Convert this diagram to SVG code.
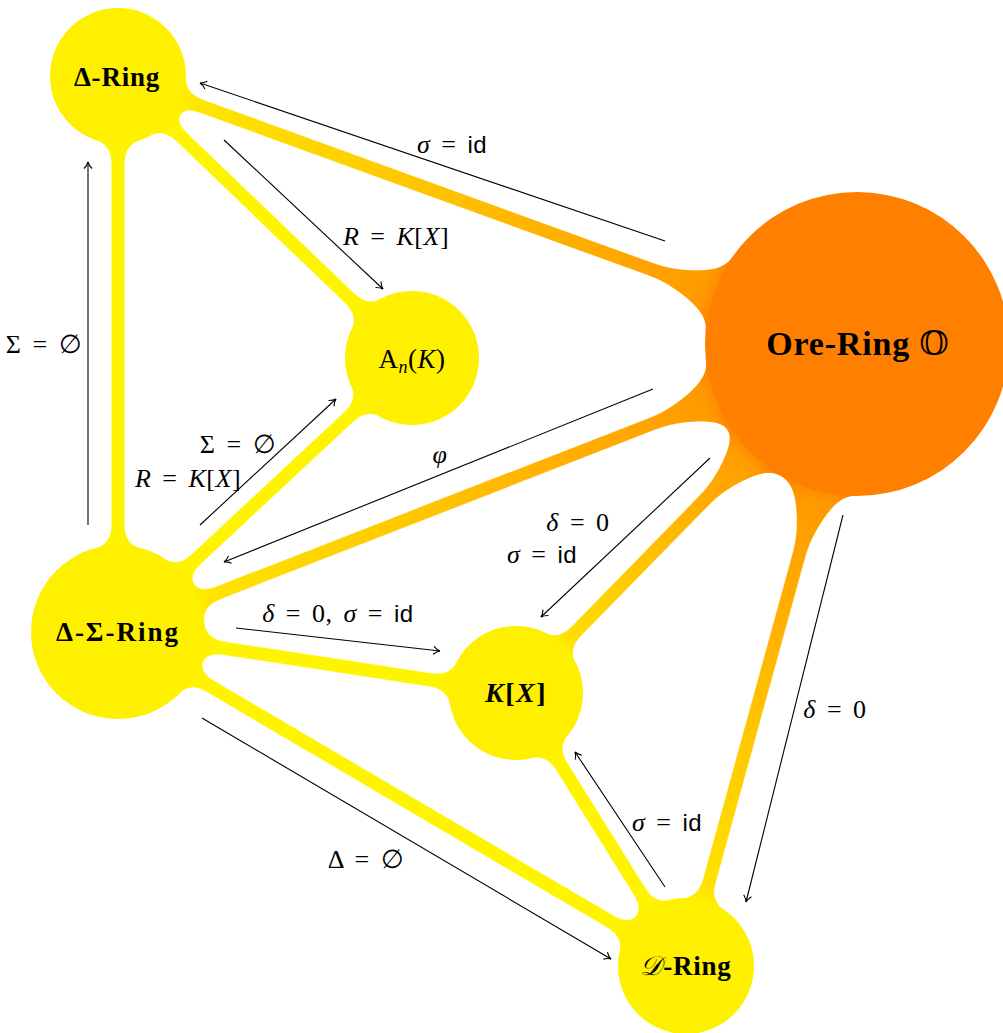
<svg xmlns="http://www.w3.org/2000/svg" width="1003" height="1033" viewBox="0 0 1003 1033">
<style>
.band{fill:none;stroke-width:16;stroke-linecap:butt}
.y{stroke:#FFF400}
.nodec{fill:#FFF000}
.arr{fill:none;stroke:#000;stroke-width:1.1;marker-end:url(#ah)}
.lbl{font-family:"Liberation Serif","DejaVu Serif",serif;font-size:26px;letter-spacing:0.5px;word-spacing:4px;text-anchor:middle;fill:#000}
.i{font-style:italic}
.sf{font-family:"Liberation Sans","DejaVu Sans",sans-serif;font-size:24px;letter-spacing:0.5px}
.nl{font-family:"Liberation Serif","DejaVu Serif",serif;font-weight:bold;font-size:27px;letter-spacing:0.8px;text-anchor:middle;fill:#000}
</style>
<defs>
<filter id="goo" filterUnits="userSpaceOnUse" x="0" y="0" width="1003" height="1033" color-interpolation-filters="sRGB">
<feGaussianBlur in="SourceGraphic" stdDeviation="9" result="b"/>
<feColorMatrix in="b" type="matrix" values="1 0 0 0 0 0 1 0 0 0 0 0 1 0 0 0 0 0 24 -12"/>
</filter>
<linearGradient id="g1" gradientUnits="userSpaceOnUse" x1="118" y1="76" x2="857" y2="344"><stop offset="0" stop-color="#FFF200"/><stop offset="0.8" stop-color="#FF9A00"/><stop offset="1" stop-color="#FF8000"/></linearGradient>
<linearGradient id="g2" gradientUnits="userSpaceOnUse" x1="118" y1="632" x2="857" y2="344"><stop offset="0" stop-color="#FFF200"/><stop offset="0.8" stop-color="#FF9A00"/><stop offset="1" stop-color="#FF8000"/></linearGradient>
<linearGradient id="g3" gradientUnits="userSpaceOnUse" x1="516" y1="693" x2="857" y2="344"><stop offset="0" stop-color="#FFF200"/><stop offset="0.7" stop-color="#FF9A00"/><stop offset="1" stop-color="#FF8000"/></linearGradient>
<linearGradient id="g4" gradientUnits="userSpaceOnUse" x1="686" y1="966" x2="857" y2="344"><stop offset="0" stop-color="#FFF200"/><stop offset="0.75" stop-color="#FF9A00"/><stop offset="1" stop-color="#FF8000"/></linearGradient>
<marker id="ah" viewBox="-8 -5 10 10" refX="0" refY="0" markerWidth="10" markerHeight="10" markerUnits="userSpaceOnUse" orient="auto">
<path d="M-6.5,-4 C-4,-1.6 -1.6,-0.4 0,0 C-1.6,0.4 -4,1.6 -6.5,4" fill="none" stroke="#000" stroke-width="1.1"/>
</marker>
</defs>
<rect width="1003" height="1033" fill="#fff"/>
<g id="connectors">
<g id="bands" filter="url(#goo)">
<line class="band y" x1="118" y1="76" x2="118" y2="632"/>
<line class="band y" x1="118" y1="76" x2="412" y2="358"/>
<line class="band y" x1="118" y1="632" x2="412" y2="358"/>
<line class="band y" x1="118" y1="632" x2="516" y2="693"/>
<line class="band y" x1="118" y1="632" x2="686" y2="966"/>
<line class="band y" x1="516" y1="693" x2="686" y2="966"/>
<line class="band" stroke="url(#g1)" x1="118" y1="76" x2="857" y2="344"/>
<line class="band" stroke="url(#g2)" x1="118" y1="632" x2="857" y2="344"/>
<line class="band" stroke="url(#g3)" x1="516" y1="693" x2="857" y2="344"/>
<line class="band" stroke="url(#g4)" x1="686" y1="966" x2="857" y2="344"/>
<path fill="url(#g1)" d="M650.7,261.7 Q707.1,282.2 754.6,253.7 L720.6,347.7 Q702.3,295.4 645.9,274.9 Z"/>
<path fill="url(#g2)" d="M652.6,431.1 Q708.5,409.3 756.9,436.7 L720.5,343.5 Q703.5,396.3 647.6,418.1 Z"/>
<path fill="url(#g3)" d="M706.8,507.7 Q748.8,464.8 804.0,469.7 L732.4,399.9 Q738.8,455.0 696.8,497.9 Z"/>
<path fill="url(#g4)" d="M804.9,560.0 Q820.9,502.1 871.5,479.8 L775.1,453.2 Q807.4,498.3 791.4,556.2 Z"/>
<circle class="nodec" cx="118" cy="76" r="68"/>
<circle class="nodec" cx="412" cy="358" r="67"/>
<circle class="nodec" cx="118" cy="632" r="87"/>
<circle class="nodec" cx="516" cy="693" r="67"/>
<circle class="nodec" cx="686" cy="966" r="68"/>
<circle fill="#FF8000" cx="857" cy="344" r="152"/>
</g>
<g id="arrows">
<line class="arr" x1="665" y1="241" x2="200" y2="83"/>
<line class="arr" x1="224" y1="140" x2="383" y2="289"/>
<line class="arr" x1="88" y1="525" x2="88" y2="162"/>
<line class="arr" x1="200" y1="525" x2="336" y2="399"/>
<line class="arr" x1="653" y1="389" x2="224" y2="562"/>
<line class="arr" x1="710" y1="458" x2="541" y2="617"/>
<line class="arr" x1="236" y1="628" x2="440" y2="651"/>
<line class="arr" x1="843" y1="515" x2="746" y2="902"/>
<line class="arr" x1="665" y1="887" x2="575" y2="752"/>
<line class="arr" x1="202" y1="718" x2="611" y2="959"/>
</g>
<g id="edge-labels">
<text class="lbl" x="452" y="153"><tspan class="i">σ</tspan> = <tspan class="sf">id</tspan></text>
<text class="lbl" x="396" y="245"><tspan class="i">R</tspan> = <tspan class="i">K</tspan>[<tspan class="i">X</tspan>]</text>
<text class="lbl" x="44" y="353">Σ = ∅</text>
<text class="lbl" x="238" y="453">Σ = ∅</text>
<text class="lbl" x="188" y="487"><tspan class="i">R</tspan> = <tspan class="i">K</tspan>[<tspan class="i">X</tspan>]</text>
<text class="lbl" x="440" y="463"><tspan class="i">φ</tspan></text>
<text class="lbl" x="578" y="531"><tspan class="i">δ</tspan> = 0</text>
<text class="lbl" x="542" y="563"><tspan class="i">σ</tspan> = <tspan class="sf">id</tspan></text>
<text class="lbl" x="338" y="622"><tspan class="i">δ</tspan> = 0,  <tspan class="i">σ</tspan> = <tspan class="sf">id</tspan></text>
<text class="lbl" x="835" y="718"><tspan class="i">δ</tspan> = 0</text>
<text class="lbl" x="667" y="831"><tspan class="i">σ</tspan> = <tspan class="sf">id</tspan></text>
<text class="lbl" x="366" y="868">Δ = ∅</text>
</g>
</g>
<g id="node-delta-ring">
<circle class="nodec" cx="118" cy="76" r="68"/>
<text class="nl" x="117" y="86">Δ-Ring</text>
</g>
<g id="node-ore-ring">
<circle fill="#FF8000" cx="857" cy="344" r="152"/>
<text class="nl" x="858" y="355" style="font-size:34px">Ore-Ring <tspan font-family="DejaVu Serif, DejaVu Sans, sans-serif" font-weight="normal">𝕆</tspan></text>
</g>
<g id="node-weyl">
<circle class="nodec" cx="412" cy="358" r="67"/>
<text class="lbl" x="412" y="368" style="font-size:27px;letter-spacing:0.5px">A<tspan class="i" font-size="18" dy="5">n</tspan><tspan dy="-5">(</tspan><tspan class="i">K</tspan>)</text>
</g>
<g id="node-delta-sigma-ring">
<circle class="nodec" cx="118" cy="632" r="87"/>
<text class="nl" x="118" y="641" style="letter-spacing:2px">Δ-Σ-Ring</text>
</g>
<g id="node-kx">
<circle class="nodec" cx="516" cy="693" r="67"/>
<text class="nl" x="516" y="702" style="font-size:28px;letter-spacing:1.5px"><tspan class="i">K</tspan>[<tspan class="i">X</tspan>]</text>
</g>
<g id="node-d-ring">
<circle class="nodec" cx="686" cy="966" r="68"/>
<text class="nl" x="686" y="975"><tspan font-family="DejaVu Serif, DejaVu Sans, serif" font-weight="normal" font-style="italic">𝒟</tspan>-Ring</text>
</g>
</svg>
